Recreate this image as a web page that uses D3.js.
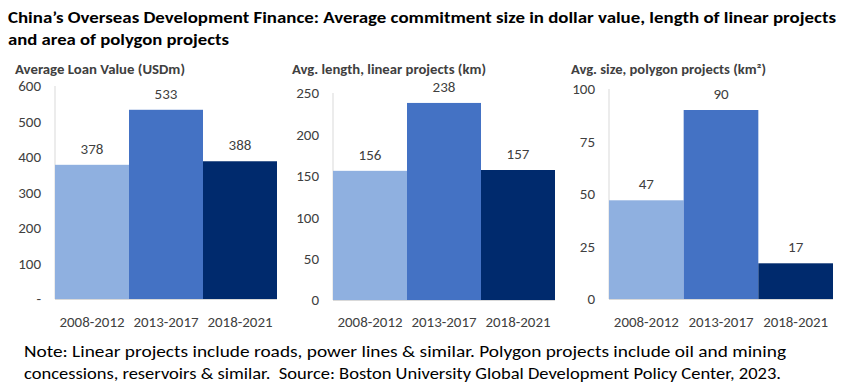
<!DOCTYPE html>
<html><head><meta charset="utf-8">
<script src="https://cdn.jsdelivr.net/npm/d3@7"></script>
<style>
body{margin:0;background:#fff;}
text{font-family:Carlito,"Liberation Sans Narrow","Open Sans",sans-serif;white-space:pre;}
</style></head><body>
<svg id="c" width="847" height="384"></svg>
<script>
const categories = ["2008-2012","2013-2017","2018-2021"];
const loanValues = [378,533,388];
const linearValues = [156,238,157];
const polygonValues = [47,90,17];
const loanTicks = [0,100,200,300,400,500,600];
const linearTicks = [0,50,100,150,200,250];
const polygonTicks = [0,25,50,75,100];
const loanTickLabels = ["-","100","200","300","400","500","600"];
const barColors = ["#8fb0e0","#4472c4","#002a6d"];

const svg = d3.select("#c");
const grey = "#404040";

// Title
const title = ["China\u2019s Overseas Development Finance: Average commitment size in dollar value, length of linear projects",
               "and area of polygon projects"];
const titleLens = [828, 221];
title.forEach((t,i)=>{
  svg.append("text").attr("x",8).attr("y",23+i*21.5).text(t)
    .attr("font-size",16).attr("font-weight","bold").attr("fill","#000")
    .attr("textLength",titleLens[i]).attr("lengthAdjust","spacingAndGlyphs");
});

const panels = [
  {title:"Average Loan Value (USDm)", tlen:170, tx:15, values:loanValues, ticks:loanTicks, labels:loanTickLabels, max:600, x0:55, x1:277, top:86, base:299},
  {title:"Avg. length, linear projects (km)", tlen:194, tx:292, values:linearValues, ticks:linearTicks, labels:linearTicks.map(String), max:250, x0:333, x1:555, top:93, base:300},
  {title:"Avg. size, polygon projects (km\u00b2)", tlen:195, tx:571, values:polygonValues, ticks:polygonTicks, labels:polygonTicks.map(String), max:100, x0:609, x1:833, top:89, base:299}
];

panels.forEach(p=>{
  const g = svg.append("g");
  g.append("text").attr("x",p.tx).attr("y",74).text(p.title)
    .attr("font-size",13.5).attr("font-weight","bold").attr("fill",grey)
    .attr("textLength",p.tlen).attr("lengthAdjust","spacingAndGlyphs");
  const x = d3.scaleBand().domain(categories).range([p.x0,p.x1]).padding(0);
  const y = d3.scaleLinear().domain([0,p.max]).range([p.base,p.top]);
  g.append("line").attr("x1",p.x0).attr("x2",p.x0).attr("y1",p.top).attr("y2",p.base)
    .attr("stroke","#d9d9d9").attr("stroke-width",1);
  const yAxis = d3.axisLeft(y).tickValues(p.ticks).tickSize(0).tickPadding(0)
    .tickFormat((d,i)=>p.labels[i]);
  const ag = g.append("g").attr("transform",`translate(${p.x0-14},0)`).call(yAxis);
  ag.select(".domain").remove();
  ag.selectAll("text").attr("font-size",15).attr("fill",grey)
    .style("font-family",'Carlito,"Liberation Sans Narrow","Open Sans",sans-serif');
  g.selectAll("rect").data(p.values).enter().append("rect")
    .attr("x",(d,i)=>x(categories[i])).attr("width",x.bandwidth())
    .attr("y",d=>y(d)).attr("height",d=>p.base-y(d))
    .attr("fill",(d,i)=>barColors[i]);
  g.append("line").attr("x1",p.x0).attr("x2",p.x1).attr("y1",p.base+0.5).attr("y2",p.base+0.5)
    .attr("stroke","#d9d9d9");
  g.selectAll(".vl").data(p.values).enter().append("text")
    .attr("x",(d,i)=>x(categories[i])+x.bandwidth()/2).attr("y",d=>y(d)-11)
    .attr("text-anchor","middle").attr("font-size",15).attr("fill",grey).text(d=>d);
  g.selectAll(".xl").data(categories).enter().append("text")
    .attr("x",d=>x(d)+x.bandwidth()/2).attr("y",327)
    .attr("text-anchor","middle").attr("font-size",14.5).attr("fill",grey).text(d=>d)
    .attr("textLength",65).attr("lengthAdjust","spacingAndGlyphs");
});

const notes = ["Note: Linear projects include roads, power lines & similar. Polygon projects include oil and mining",
               "concessions, reservoirs & similar.  Source: Boston University Global Development Policy Center, 2023."];
const noteLens = [762, 757];
notes.forEach((t,i)=>{
  svg.append("text").attr("x",24).attr("y",357+i*22).text(t)
    .attr("font-size",15.5).attr("fill","#000")
    .attr("textLength",noteLens[i]).attr("lengthAdjust","spacingAndGlyphs");
});
</script></body></html>
